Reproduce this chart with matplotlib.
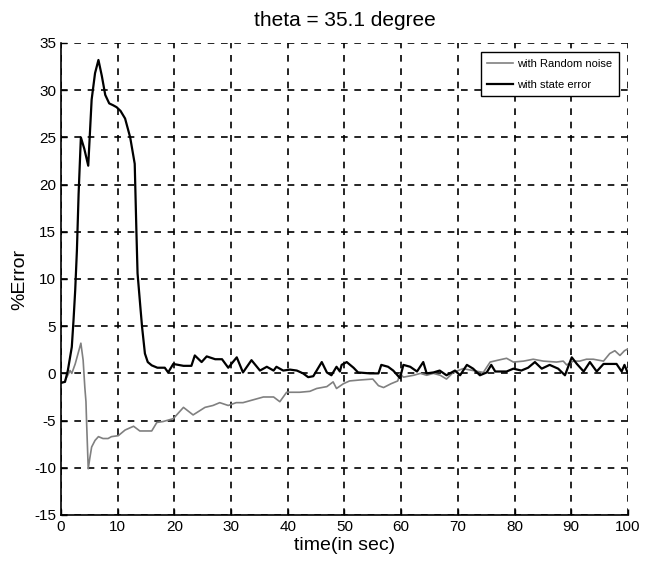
import numpy as np
import matplotlib.pyplot as plt

plt.rcParams['font.family'] = ['Liberation Sans', 'DejaVu Sans']
plt.rcParams['axes.unicode_minus'] = False

# --- data (time in sec, % error) ---
t_state = [0, 0.7, 1.2, 1.9, 2.2, 2.5, 2.8, 3.1, 3.5, 4.1, 4.8, 5.4, 6.0, 6.6,
           7.2, 7.8, 8.5, 9.2, 9.8, 10.5, 11.3, 12.2, 13.0, 13.3, 13.5, 14.0,
           14.3, 14.8, 15.3, 16.0, 17.0, 18.3, 18.9, 19.8, 20.7, 21.6, 23.0,
           23.6, 24.8, 25.7, 27.2, 28.4, 29.5, 31.0, 32.1, 33.6, 35.1, 36.3,
           37.5, 38.0, 39.2, 40.4, 41.6, 42.7, 43.6, 44.5, 46.0, 46.9, 47.7,
           48.6, 49.2, 49.5, 50.4, 51.6, 52.4, 54.5, 56.0, 56.5, 57.7, 58.6,
           59.8, 60.4, 61.6, 62.8, 63.9, 64.5, 65.7, 66.8, 68.0, 69.5, 70.4,
           71.6, 72.7, 73.9, 75.1, 75.9, 76.6, 78.6, 79.8, 81.2, 82.4, 83.6,
           84.8, 86.2, 87.7, 88.9, 90.1, 91.0, 92.2, 93.3, 94.5, 95.7, 98.0,
           98.9, 99.4, 100]
err_state = [-1.0, -0.9, 0.3, 2.8, 5.6, 8.8, 13.0, 19.0, 25.0, 23.8, 22.0,
             29.0, 31.8, 33.2, 31.5, 29.5, 28.6, 28.4, 28.2, 27.8, 27.0, 25.0,
             22.2, 15.0, 10.6, 7.0, 4.9, 2.1, 1.2, 0.85, 0.6, 0.6, 0.1, 1.0,
             0.9, 0.8, 0.8, 1.9, 1.2, 1.8, 1.5, 1.5, 0.6, 1.7, 0.1, 1.4, 0.3,
             0.7, 0.3, 0.7, 0.3, 0.4, 0.3, 0.0, -0.4, -0.3, 1.2, 0.1, -0.2,
             0.7, 0.2, 0.9, 1.2, 0.6, 0.1, 0.0, 0.0, 0.9, 0.7, 0.3, -0.5, 0.9,
             0.7, 0.2, 1.2, 0.0, 0.1, 0.3, -0.2, 0.3, -0.2, 0.9, 0.5, -0.2,
             0.1, 0.9, 0.2, 0.2, 0.5, 0.3, 0.6, 1.2, 0.5, 0.9, 0.5, -0.2, 1.7,
             1.0, 0.2, 1.2, 0.2, 1.0, 1.0, 0.2, 0.9, 0.0]

t_noise = [0, 0.6, 1.6, 1.9, 2.5, 3.0, 3.5, 3.9, 4.2, 4.4, 4.5, 4.8, 5.1, 5.4,
           6.0, 6.6, 7.4, 8.3, 8.9, 10.1, 11.3, 12.8, 13.9, 16.0, 16.9, 18.0,
           19.8, 21.6, 23.3, 25.4, 26.8, 28.0, 29.5, 30.9, 32.1, 33.9, 35.7,
           37.5, 38.6, 39.8, 42.1, 43.9, 45.1, 46.9, 48.0, 48.6, 49.8, 50.9,
           52.7, 55.0, 56.0, 56.9, 58.2, 59.4, 59.8, 60.4, 62.2, 63.4, 64.5,
           65.7, 66.9, 68.0, 69.2, 70.9, 72.7, 74.5, 75.7, 77.1, 78.6, 79.8,
           81.6, 83.3, 85.1, 87.4, 88.6, 89.2, 90.4, 91.5, 92.7, 93.9, 95.7,
           96.8, 97.7, 98.6, 99.4, 100]
err_noise = [-1.0, -0.9, 0.3, 0.0, 1.0, 2.1, 3.2, 1.4, -1.5, -3.0, -5.0, -10.1,
             -8.9, -7.8, -7.1, -6.7, -6.9, -6.9, -6.7, -6.6, -6.0, -5.6, -6.1,
             -6.1, -5.2, -5.1, -4.8, -3.6, -4.4, -3.6, -3.4, -3.1, -3.4, -3.1,
             -3.1, -2.8, -2.5, -2.5, -3.0, -2.0, -2.0, -1.9, -1.6, -1.4, -0.9,
             -1.6, -1.1, -0.8, -0.7, -0.6, -1.3, -1.5, -1.1, -0.8, 0.0, -0.4,
             -0.2, 0.0, -0.2, 0.0, -0.2, -0.6, 0.1, 0.5, 0.3, 0.1, 1.2, 1.4,
             1.6, 1.2, 1.3, 1.5, 1.3, 1.2, 1.3, 0.9, 1.3, 1.3, 1.5, 1.5, 1.3,
             2.1, 2.4, 1.9, 2.4, 2.6]

xticks = np.arange(0, 101, 10)
yticks = np.arange(-15, 36, 5)

fig = plt.figure(figsize=(6.52, 5.64), dpi=100)
ax = fig.add_axes([0.0936, 0.0869, 0.8694, 0.8369])

ax.plot(t_noise, err_noise, color='#808080', lw=1.2, label='with Random noise')
ax.plot(t_state, err_state, color='black', lw=1.6, label='with state error')

ax.set_xlim(0, 100)
ax.set_ylim(-15, 35)
ax.set_xticks(xticks)
ax.set_yticks(yticks)
ax.tick_params(direction='in', length=4, labelsize=11, width=1)
ax.grid(True, color='black', linestyle=(0, (4, 4)), linewidth=1.2)

for s in ['top', 'right']:
    ax.spines[s].set_visible(False)
for s in ['left', 'bottom']:
    ax.spines[s].set_linewidth(1.2)

ax.set_title('theta = 35.1 degree', fontsize=15, pad=12)
ax.set_xlabel('time(in sec)', fontsize=14, labelpad=2)
ax.set_ylabel('%Error', fontsize=14, labelpad=4)

leg = ax.legend(loc='upper right', fontsize=8, fancybox=False, framealpha=1,
                edgecolor='black', borderaxespad=0.8, handlelength=2.3,
                labelspacing=1.0, handletextpad=0.4, borderpad=0.6)
leg.get_frame().set_linewidth(1.0)

plt.savefig('out.png', dpi=100)
